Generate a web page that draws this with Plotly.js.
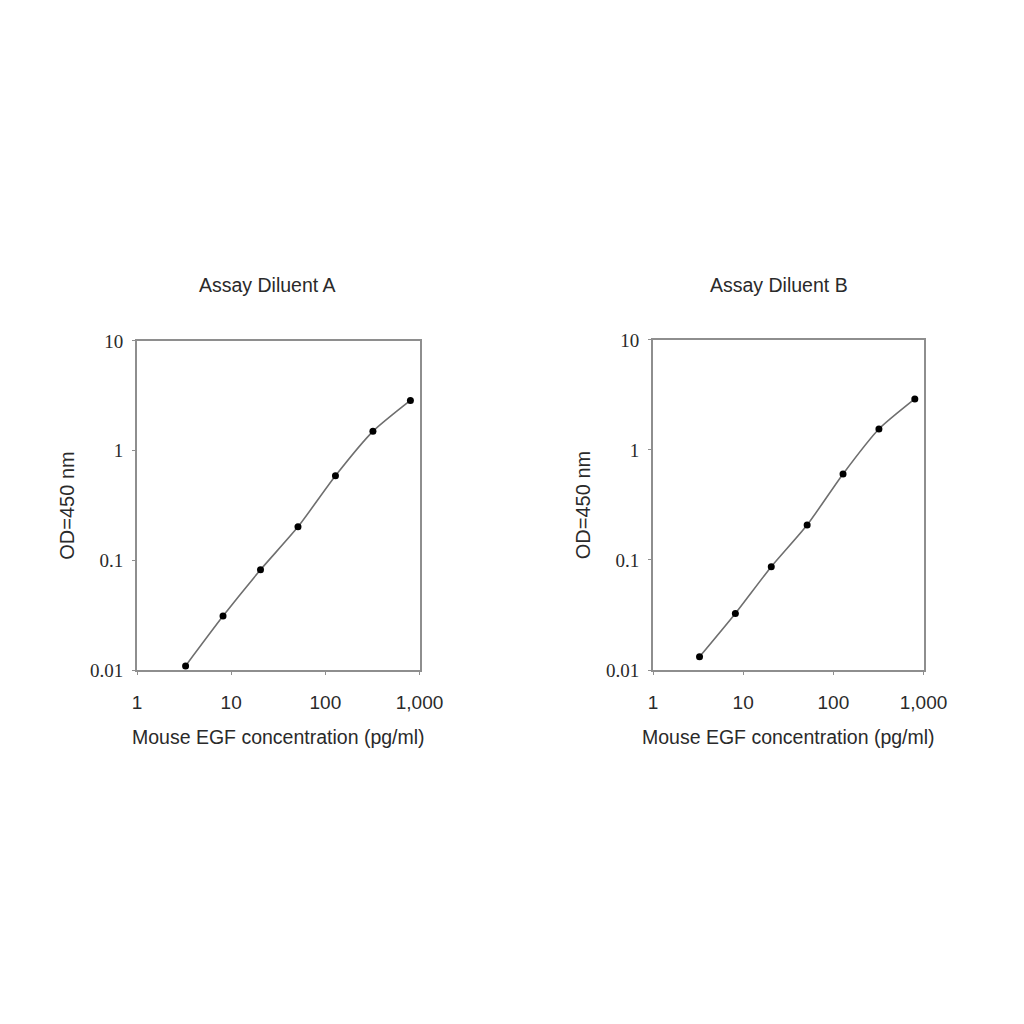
<!DOCTYPE html>
<html>
<head>
<meta charset="utf-8">
<script src="https://cdn.plot.ly/plotly-3.0.1.min.js"></script>
<style>
  html, body { margin: 0; padding: 0; background: #fff; }
  #plot { width: 1024px; height: 1024px; }
</style>
</head>
<body>
<div id="plot"></div>
<script>
// EGF standard curve, 2.5-fold dilution series
const concentration = [3.28, 8.19, 20.48, 51.2, 128, 320, 800];
const odDiluentA = [0.0109, 0.031, 0.082, 0.202, 0.59, 1.5, 2.87];
const odDiluentB = [0.0132, 0.0327, 0.087, 0.208, 0.605, 1.55, 2.91];

const panelTitles = ["Assay Diluent A", "Assay Diluent B"];
const xTitle = "Mouse EGF concentration (pg/ml)";
const yTitle = "OD=450 nm";

const xTickVals = [1, 10, 100, 1000];
const xTickText = ["1", "10", "100", "1,000"];
const yTickVals = [0.01, 0.1, 1, 10];
const yTickText = ["0.01", "0.1", "1", "10"];

const SANS = "Liberation Sans, Arial, sans-serif";
const SERIF = "Liberation Serif, Times New Roman, serif";
const AXIS_GRAY = "#8e8e8e";
const TEXT = "#2a2a2a";

function curveTrace(y, n) {
  const suffix = n === 1 ? "" : String(n);
  return {
    x: concentration,
    y: y,
    xaxis: "x" + suffix,
    yaxis: "y" + suffix,
    mode: "lines+markers",
    line: { color: "#6f6f6f", width: 1.6, shape: "spline", smoothing: 0.6 },
    marker: { color: "#000", size: 7 },
    hoverinfo: "skip",
    showlegend: false
  };
}

function xAxis(domain, anchor) {
  return {
    type: "log",
    domain: domain,
    anchor: anchor,
    range: [0, 3],
    tickvals: xTickVals,
    ticktext: xTickText,
    ticks: "outside",
    ticklen: 3,
    tickcolor: AXIS_GRAY,
    ticklabelstandoff: 11,
    tickfont: { family: SANS, size: 19, color: TEXT },
    showline: true,
    linecolor: AXIS_GRAY,
    linewidth: 2,
    mirror: true,
    showgrid: false,
    zeroline: false,
    title: { text: xTitle, font: { family: SANS, size: 19.5, color: TEXT }, standoff: 19 }
  };
}

function yAxis(domain, anchor) {
  return {
    type: "log",
    domain: domain,
    anchor: anchor,
    range: [-2, 1],
    tickvals: yTickVals,
    ticktext: yTickText,
    ticks: "outside",
    ticklen: 3,
    tickcolor: AXIS_GRAY,
    ticklabelstandoff: 5,
    tickfont: { family: SERIF, size: 19, color: TEXT },
    showline: true,
    linecolor: AXIS_GRAY,
    linewidth: 2,
    mirror: true,
    showgrid: false,
    zeroline: false,
    title: { text: yTitle, font: { family: SANS, size: 20, color: TEXT }, standoff: 10 }
  };
}

const data = [curveTrace(odDiluentA, 1), curveTrace(odDiluentB, 2)];

const layout = {
  width: 1024,
  height: 1024,
  margin: { l: 0, r: 0, t: 0, b: 0 },
  paper_bgcolor: "#fff",
  plot_bgcolor: "#fff",
  xaxis: xAxis([0.1338, 0.4097], "y"),
  yaxis: yAxis([0.3457, 0.667], "x"),
  xaxis2: xAxis([0.6377, 0.9019], "y2"),
  yaxis2: yAxis([0.3457, 0.668], "x2"),
  annotations: [
    { text: panelTitles[0], x: 0.2617, y: 0.7217 },
    { text: panelTitles[1], x: 0.7607, y: 0.7217 }
  ].map(a => Object.assign(a, {
    xref: "paper", yref: "paper", xanchor: "center", yanchor: "middle",
    showarrow: false, font: { family: SANS, size: 19.5, color: TEXT }
  }))
};

Plotly.newPlot("plot", data, layout, { staticPlot: true });
</script>
</body>
</html>
